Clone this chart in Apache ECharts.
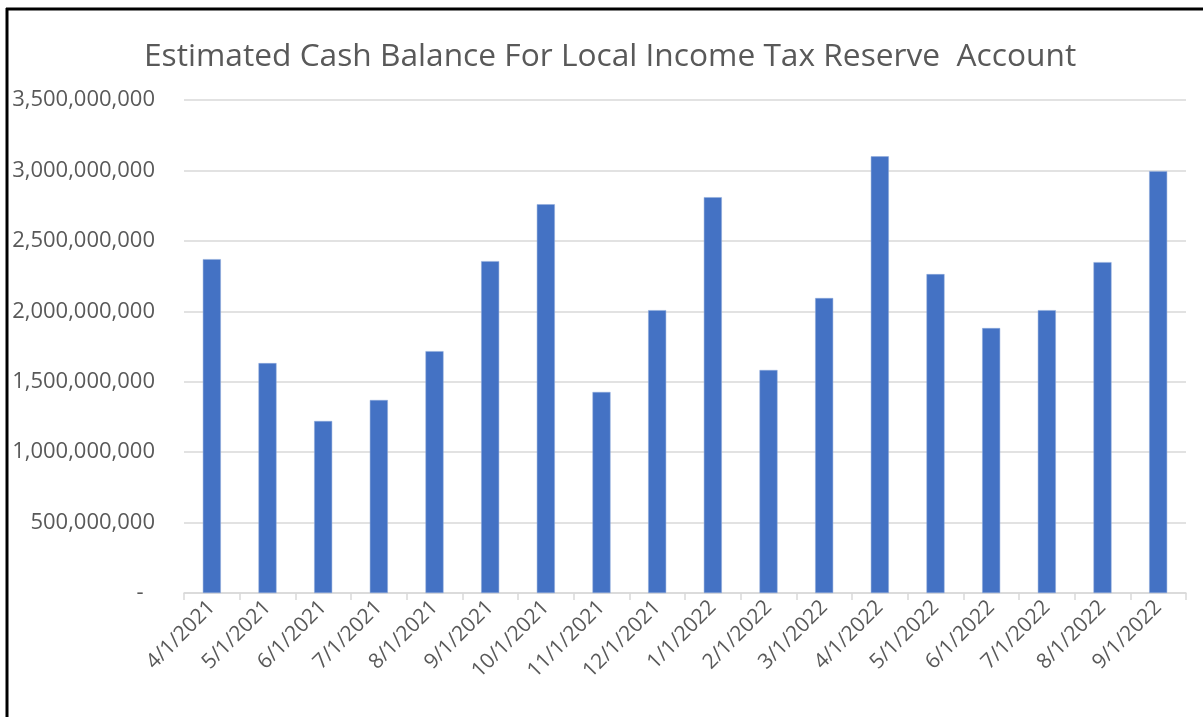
<!DOCTYPE html>
<html><head><meta charset="utf-8">
<script src="https://cdn.jsdelivr.net/npm/echarts@6/dist/echarts.min.js"></script>
<style>html,body{margin:0;padding:0;background:#fff}#c{width:1203px;height:717px}</style>
</head><body><div id="c"></div>
<script>
const categories = ['4/1/2021','5/1/2021','6/1/2021','7/1/2021','8/1/2021','9/1/2021','10/1/2021','11/1/2021','12/1/2021','1/1/2022','2/1/2022','3/1/2022','4/1/2022','5/1/2022','6/1/2022','7/1/2022','8/1/2022','9/1/2022'];
const cashBalance = [2370000000,1632000000,1221000000,1370000000,1717000000,2356000000,2760000000,1427000000,2008000000,2810000000,1583000000,2094000000,3100000000,2264000000,1881000000,2008000000,2349000000,2995000000];
const chartTitle = 'Estimated Cash Balance For Local Income Tax Reserve  Account';

const chart = echarts.init(document.getElementById('c'), null, {renderer:'canvas'});
const font = '"Open Sans", "Noto Sans", sans-serif';
chart.setOption({
  animation:false,
  title:{text:chartTitle,left:139,top:36,textStyle:{fontFamily:font,fontSize:31.7,fontWeight:'normal',color:'#595959'}},
  grid:{left:184,right:17,top:100,bottom:124},
  xAxis:{type:'category',data:categories,
    axisLine:{lineStyle:{color:'#d9d9d9',width:1.5}},
    axisTick:{show:true,length:7,lineStyle:{color:'#d9d9d9',width:1.5}},
    axisLabel:{rotate:45,fontFamily:font,fontSize:21,color:'#595959',margin:11,interval:0}},
  yAxis:{type:'value',min:0,max:3500000000,interval:500000000,
    axisLine:{show:false},axisTick:{show:false},
    splitLine:{lineStyle:{color:'#d9d9d9',width:1.5}},
    axisLabel:{fontFamily:font,fontSize:22,color:'#595959',margin:29,
      formatter:v=>v===0?'-  ':v.toLocaleString('en-US')}},
  series:[{type:'bar',data:cashBalance,barWidth:18,
    itemStyle:{color:'#4472c4',borderColor:'#8eaadb',borderWidth:0.5}}],
  graphic:[
    {type:'line',shape:{x1:6,y1:9,x2:1203,y2:9},style:{stroke:'#000',lineWidth:3}},
    {type:'line',shape:{x1:7,y1:8,x2:7,y2:717},style:{stroke:'#000',lineWidth:3}}
  ]
});
</script></body></html>
